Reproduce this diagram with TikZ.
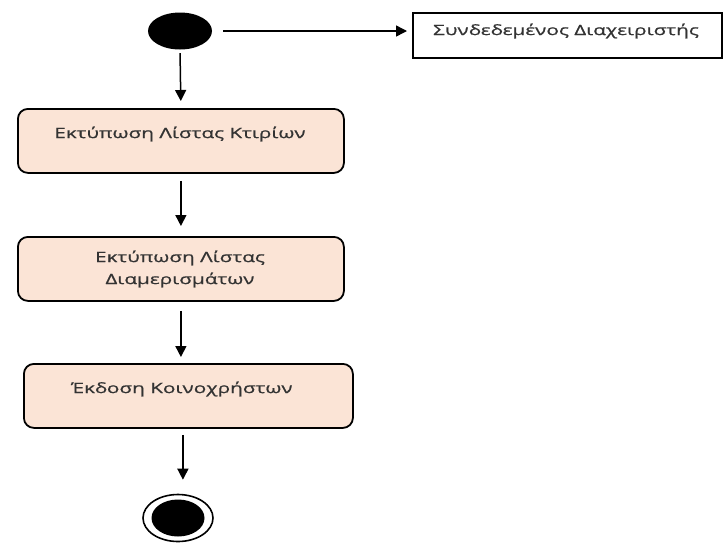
\documentclass[tikz,border=0pt]{standalone}
\usepackage{fontspec}
\setmainfont{Open Sans}
\newfontfamily\widesans[FakeStretch=1.45, FakeBold=0.9]{Open Sans}
\usetikzlibrary{arrows.meta,shapes.geometric}
\definecolor{actfill}{HTML}{FBE4D6}
\definecolor{txt}{HTML}{333333}
\tikzset{
  activity/.style={draw=black, line width=1.8pt, rounded corners=10pt, fill=actfill,
    minimum width=326pt, minimum height=64pt, anchor=north west, inner sep=0pt},
  actlabel/.style={text=txt, font=\widesans\fontsize{14.3}{22}\selectfont, align=center},
  flow/.style={line width=1.5pt, -{Triangle[length=11pt,width=11pt]}},
}
\begin{document}
\begin{tikzpicture}[x=1pt,y=-1pt]
\useasboundingbox (0,0) rectangle (723,542);
% start and end states
\node (start) [ellipse, fill=black, minimum width=64pt, minimum height=37pt, inner sep=0pt] at (180,31) {};
\node (endo) [ellipse, draw=black, line width=1.6pt, fill=white, minimum width=70pt, minimum height=47pt, inner sep=0pt] at (178,518) {};
\node (endi) [ellipse, fill=black, minimum width=53pt, minimum height=37pt, inner sep=0pt] at (178,518) {};
% actor box
\node (admin) [draw=black, line width=1.8pt, minimum width=309pt, minimum height=45pt, anchor=north west, inner sep=0pt] at (412,12) {};
\node (adminlbl) [actlabel] at (566,31) {Συνδεδεμένος Διαχειριστής};
% activities
\node (a1) [activity] at (17,108) {};
\node (a1lbl) [actlabel] at (180,134) {Εκτύπωση Λίστας Κτιρίων};
\node (a2) [activity] at (17,236) {};
\node (a2lbl) [actlabel] at (180,269) {Εκτύπωση Λίστας\\Διαμερισμάτων};
\node (a3) [activity, minimum width=329pt] at (23,363) {};
\node (a3lbl) [actlabel] at (182,389) {Έκδοση Κοινοχρήστων};
% flows
\draw[flow, shorten <=11pt, shorten >=5pt] (start.east) -- (start.east -| admin.west);
\draw[flow, shorten <=3.5pt, shorten >=7pt] (start.south) -- (a1.north);
\draw[flow, shorten <=7pt, shorten >=10pt] (a1.south) -- (a2.north);
\draw[flow, shorten <=9pt, shorten >=6pt] (a2.south) -- (a2.south |- a3.north);
\draw[flow, shorten <=6pt, shorten >=14pt] ([xshift=-5.5pt]a3.south) -- ([xshift=-5.5pt]a3.south |- endo.north);
\end{tikzpicture}
\end{document}
